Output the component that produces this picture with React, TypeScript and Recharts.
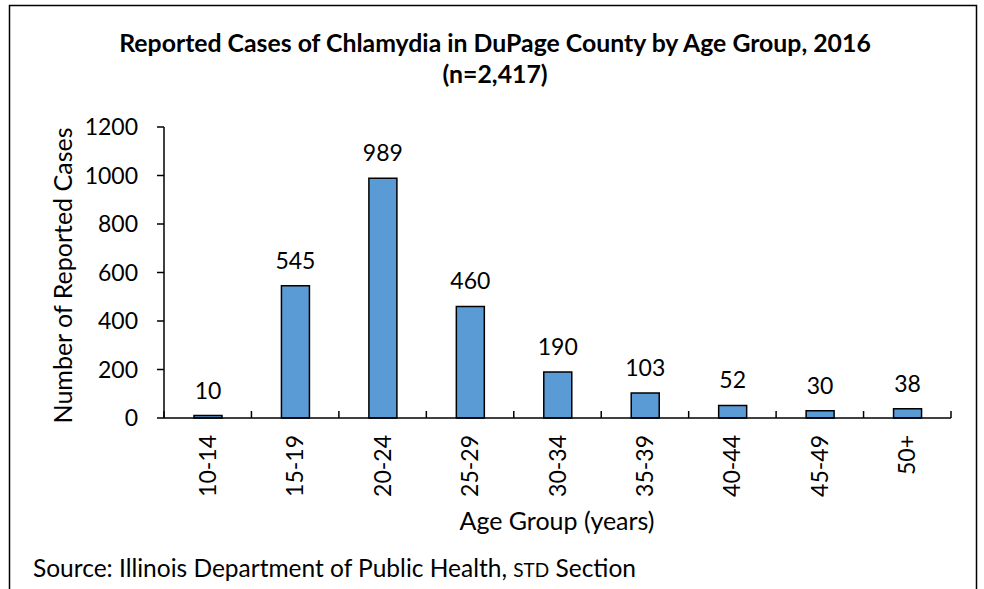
import { BarChart, Bar, XAxis, YAxis, LabelList } from 'recharts'

const ageGroups = ['10-14', '15-19', '20-24', '25-29', '30-34', '35-39', '40-44', '45-49', '50+']
const cases = [10, 545, 989, 460, 190, 103, 52, 30, 38]
const yTicks = [0, 200, 400, 600, 800, 1000, 1200]

const W = 984
const H = 589
const PLOT_LEFT = 164
const PLOT_RIGHT = 951
const PLOT_TOP = 127
const PLOT_BOTTOM = 418
const FONT = 'Lato, "Open Sans", sans-serif'

const chartData = ageGroups.map((g, i) => ({ group: g, value: cases[i] }))

// category ticks sit on band boundaries and point up into the plot
function AgeTick(props: any) {
  const { x, y, payload, index } = props
  const band = (PLOT_RIGHT - PLOT_LEFT) / ageGroups.length
  const left = x - band / 2
  const right = x + band / 2
  return (
    <g>
      <line x1={left} x2={left} y1={y - 7} y2={y} stroke="#000" strokeWidth={1.5} />
      {index === ageGroups.length - 1 && (
        <line x1={right} x2={right} y1={y - 7} y2={y} stroke="#000" strokeWidth={1.5} />
      )}
      <text
        transform={`translate(${x + 8},${y + 17}) rotate(-90)`}
        textAnchor="end"
        fontSize={23}
        fontFamily={FONT}
        fill="#000"
      >
        {payload.value}
      </text>
    </g>
  )
}

export default function App() {
  return (
    <div style={{ position: 'absolute', left: 0, top: 0, width: W, height: H, background: '#fff' }}>
      <BarChart
        width={W}
        height={H}
        data={chartData}
        margin={{ top: PLOT_TOP, right: W - PLOT_RIGHT, bottom: 61, left: PLOT_LEFT - 70 }}
      >
        <XAxis
          dataKey="group"
          height={H - PLOT_BOTTOM - 61}
          axisLine={{ stroke: '#000', strokeWidth: 1.5 }}
          tickLine={false}
          tickSize={0}
          tickMargin={0}
          interval={0}
          tick={<AgeTick />}
        />
        <YAxis
          width={70}
          domain={[0, 1200]}
          ticks={yTicks}
          interval={0}
          axisLine={{ stroke: '#000', strokeWidth: 1.5 }}
          tickLine={{ stroke: '#000', strokeWidth: 1.5 }}
          tickSize={7}
          tickMargin={19}
          tick={{ fill: '#000', fontSize: 23, fontFamily: FONT }}
        />
        <Bar dataKey="value" fill="#5B9BD5" stroke="#000" strokeWidth={1.5} barSize={28} isAnimationActive={false}>
          <LabelList dataKey="value" position="top" offset={17} fill="#000" fontSize={23} fontFamily={FONT} />
        </Bar>
      </BarChart>
      <svg width={W} height={H} style={{ position: 'absolute', left: 0, top: 0, pointerEvents: 'none' }}>
        <path d="M9.5,589 V5.5 H976.5 V589" fill="none" stroke="#000" strokeWidth={1.5} />
        <g fontFamily={FONT} fill="#000" textAnchor="middle">
          <text x={495} y={52} fontSize={24.8} fontWeight="bold">
            Reported Cases of Chlamydia in DuPage County by Age Group, 2016
          </text>
          <text x={495} y={83} fontSize={24.8} fontWeight="bold">
            (n=2,417)
          </text>
          <text x={557} y={530} fontSize={25}>
            Age Group (years)
          </text>
          <text transform={`translate(72,${(PLOT_TOP + PLOT_BOTTOM) / 2 + 3}) rotate(-90)`} fontSize={25}>
            Number of Reported Cases
          </text>
          <text x={33} y={577} fontSize={24.5} textAnchor="start">
            Source: Illinois Department of Public Health, <tspan fontSize={19}>STD</tspan> Section
          </text>
        </g>
      </svg>
    </div>
  )
}
